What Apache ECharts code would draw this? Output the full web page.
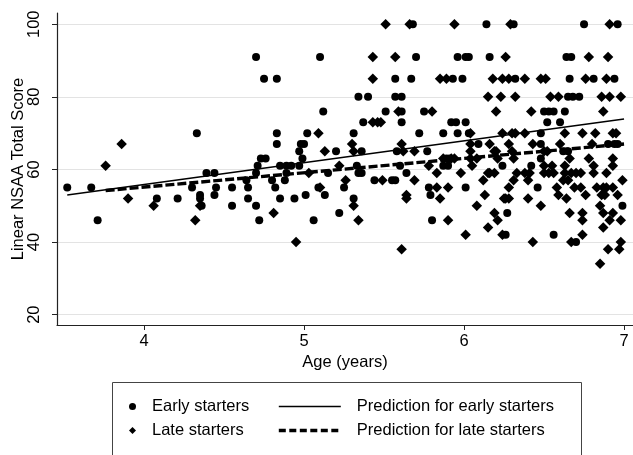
<!DOCTYPE html>
<html>
<head>
<meta charset="utf-8">
<script src="https://cdn.jsdelivr.net/npm/echarts@6/dist/echarts.min.js"></script>
<style>
html,body{margin:0;padding:0;background:#fff;}
#chart{width:633px;height:455px;}
</style>
</head>
<body>
<div id="chart"></div>
<script>
// ---- data (age in years, linear NSAA total score) ----
const earlyStarters = [
  [5.68,100],[6.14,100],[6.31,100],[6.75,100],[6.96,100],
  [4.70,91],[5.10,91],[5.70,91],[5.96,91],[6.01,91],[6.03,91],[6.16,91],[6.64,91],[6.67,91],
  [4.75,85],[4.83,85],[5.57,85],[5.67,85],[5.93,85],[5.99,85],[6.32,85],[6.66,85],[6.81,85],[6.94,85],
  [5.34,80],[5.40,80],[5.57,80],[5.61,80],[6.65,80],[6.68,80],[6.72,80],
  [5.12,76],[5.51,76],[5.61,76],[5.75,76],[6.50,76],[6.53,76],[6.56,76],[6.63,76],
  [5.37,73],[5.61,73],[5.92,73],[5.95,73],[6.01,73],[6.52,73],[6.60,73],
  [4.33,70],[4.83,70],[5.02,70],[5.31,70],[5.72,70],[5.87,70],[5.96,70],[6.03,70],[6.48,70],
  [4.83,67],[4.98,67],[5.00,67],[6.09,67],[6.48,67],[6.90,67],[6.94,67],[6.96,67],
  [4.97,65],[5.20,65],[5.36,65],[5.58,65],[5.77,65],[6.62,65],[6.65,65],
  [4.73,63],[4.76,63],[4.99,63],[5.89,63],[5.91,63],[6.48,63],
  [4.71,61],[4.85,61],[4.89,61],[4.92,61],[4.97,61],[5.33,61],[5.60,61],[5.87,61],[5.90,61],[6.24,61],[6.42,61],
  [4.39,59],[4.44,59],[4.70,59],[4.89,59],[5.15,59],[5.34,59],[5.36,59],[5.64,59],
  [4.64,57],[4.80,57],[4.88,57],[5.44,57],[5.55,57],[5.57,57],
  [3.52,55],[3.67,55],[4.30,55],[4.45,55],[4.55,55],[4.65,55],[4.82,55],[5.09,55],[5.25,55],[5.78,55],[6.01,55],[6.46,55],
  [4.35,53],[4.44,53],[5.01,53],[5.13,53],[5.79,53],
  [4.08,52],[4.21,52],[4.35,52],[4.65,52],[4.85,52],[4.94,52],[5.31,52],
  [4.36,50],[4.55,50],[4.70,50],[6.99,50],
  [5.22,48],[6.27,48],
  [3.71,46],[4.72,46],[5.06,46],[5.80,46],
  [6.26,42],[6.56,42],
  [6.70,40]
];
const lateStarters = [
  [5.51,100],[5.66,100],[5.94,100],[6.29,100],[6.91,100],
  [5.43,91],[5.57,91],[6.26,91],[6.78,91],[6.90,91],
  [5.43,85],[5.85,85],[5.89,85],[6.18,85],[6.24,85],[6.28,85],[6.38,85],[6.48,85],[6.51,85],[6.76,85],[6.89,85],
  [6.15,80],[6.23,80],[6.32,80],[6.54,80],[6.59,80],[6.86,80],[6.91,80],[6.98,80],
  [5.59,76],[5.80,76],[6.20,76],[6.42,76],[6.87,76],
  [5.43,73],[5.46,73],[5.48,73],
  [5.09,70],[6.04,70],[6.24,70],[6.30,70],[6.32,70],[6.38,70],[6.63,70],[6.74,70],[6.82,70],[6.93,70],[6.95,70],
  [3.86,67],[5.30,67],[5.61,67],[6.04,67],[6.16,67],[6.28,67],[6.43,67],[6.60,67],[6.80,67],
  [5.13,65],[5.31,65],[5.62,65],[5.69,65],[6.04,65],[6.19,65],[6.20,65],[6.30,65],[6.50,65],[6.52,65],
  [5.87,63],[5.92,63],[5.94,63],[6.04,63],[6.08,63],[6.21,63],[6.31,63],[6.66,63],[6.78,63],[6.93,63],
  [3.76,61],[5.22,61],[5.78,61],[6.05,61],[6.50,61],[6.55,61],[6.63,61],[6.81,61],[6.93,61],
  [5.03,59],[5.83,59],[5.98,59],[6.15,59],[6.16,59],[6.19,59],[6.33,59],[6.38,59],[6.41,59],[6.50,59],[6.53,59],[6.56,59],[6.63,59],[6.67,59],[6.70,59],[6.73,59],[6.81,59],[6.89,59],
  [5.26,57],[5.49,57],[5.69,57],[6.12,57],[6.31,57],[6.40,57],[6.62,57],[6.65,57],[6.99,57],
  [5.10,55],[5.83,55],[5.90,55],[6.28,55],[6.58,55],[6.69,55],[6.73,55],[6.83,55],[6.87,55],[6.89,55],[6.93,55],
  [5.64,53],[6.13,53],[6.59,53],[6.76,53],[6.86,53],[6.88,53],[6.96,53],
  [3.90,52],[5.64,52],[5.85,52],[6.25,52],[6.26,52],[6.28,52],[6.40,52],[6.64,52],
  [4.06,50],[4.35,50],[5.31,50],[6.08,50],[6.48,50],[6.85,50],
  [4.81,48],[6.19,48],[6.66,48],[6.74,48],[6.87,48],[6.93,48],
  [4.32,46],[5.34,46],[5.90,46],[6.21,46],[6.74,46],[6.91,46],[6.98,46],
  [6.15,44],[6.87,44],
  [6.01,42],[6.24,42],[6.74,42],
  [4.95,40],[6.43,40],[6.67,40],[6.98,40],
  [5.61,38],[6.90,38],[6.97,38],
  [6.85,34]
];
const predictionEarly = [[3.52,53.0],[7.00,73.9]];
const predictionLate = [[3.76,54.2],[7.00,67.0]];
const xTicks = [4,5,6,7];
const yTicks = [20,40,60,80,100];
const seriesNames = ['Early starters','Late starters','Prediction for early starters','Prediction for late starters'];

const FONT = '"Liberation Sans", Arial, Helvetica, sans-serif';
const chart = echarts.init(document.getElementById('chart'), null, {renderer:'canvas'});
chart.setOption({
  backgroundColor:'#fff',
  animation:false,
  textStyle:{fontFamily:FONT, color:'#000'},
  grid:{left:57, right:0, top:13, bottom:130, containLabel:false, outerBoundsMode:'none'},
  xAxis:{
    type:'value', min:3.456, max:7.056,
    name:'Age (years)', nameLocation:'middle', nameGap:29, nameMoveOverlap:false,
    nameTextStyle:{fontSize:16.5, color:'#000', fontFamily:FONT},
    axisLine:{show:true, lineStyle:{color:'#222', width:1.2}},
    axisTick:{show:true, length:5, lineStyle:{color:'#222'}, customValues:xTicks},
    axisLabel:{fontSize:16.5, color:'#000', margin:8, fontFamily:FONT, customValues:xTicks},
    splitLine:{show:false}
  },
  yAxis:{
    type:'value', min:17.16, max:103.1,
    name:'Linear NSAA Total Score', nameLocation:'middle', nameGap:30, nameRotate:90, nameMoveOverlap:false,
    nameTextStyle:{fontSize:16.5, color:'#000', fontFamily:FONT},
    axisLine:{show:true, lineStyle:{color:'#222', width:1.2}},
    axisTick:{show:true, length:5, lineStyle:{color:'#222'}, customValues:yTicks},
    axisLabel:{fontSize:16.5, color:'#000', margin:14, rotate:90, fontFamily:FONT, customValues:yTicks},
    splitLine:{show:true, lineStyle:{color:'#e3e3e3', width:1}}
  },
  legend:[
    {data:[seriesNames[0], seriesNames[1]], orient:'vertical', left:129, top:397, padding:0,
     itemWidth:7, itemHeight:7, itemGap:5,
     textStyle:{fontSize:16.5, color:'#000', fontFamily:FONT, lineHeight:19, padding:[0,0,0,11]}},
    {data:[
       {name:seriesNames[2], lineStyle:{width:1.5}},
       {name:seriesNames[3], lineStyle:{width:3.6, type:[7,3.5]}}
     ], orient:'vertical', left:277, top:397, padding:0,
     itemWidth:62, itemHeight:7, itemGap:5,
     itemStyle:{opacity:0},
     textStyle:{fontSize:16.5, color:'#000', fontFamily:FONT, lineHeight:19, padding:[0,0,0,11]}}
  ],
  graphic:[{type:'rect', left:110, top:380, shape:{width:469, height:90},
    style:{fill:'none', stroke:'#444', lineWidth:1}, silent:true}],
  series:[
    {name:seriesNames[0], type:'scatter', data:earlyStarters, symbol:'circle', symbolSize:8,
     itemStyle:{color:'#000', opacity:1}, z:3},
    {name:seriesNames[1], type:'scatter', data:lateStarters, symbol:'diamond', symbolSize:10.5,
     itemStyle:{color:'#000', opacity:1}, z:3},
    {name:seriesNames[2], type:'line', data:predictionEarly, symbol:'none', showSymbol:false,
     lineStyle:{color:'#000', width:1.5}, itemStyle:{color:'#000'}, z:4},
    {name:seriesNames[3], type:'line', data:predictionLate, symbol:'none', showSymbol:false,
     lineStyle:{color:'#000', width:3.4, type:[9,3]}, itemStyle:{color:'#000'}, z:4}
  ]
});
</script>
</body>
</html>
